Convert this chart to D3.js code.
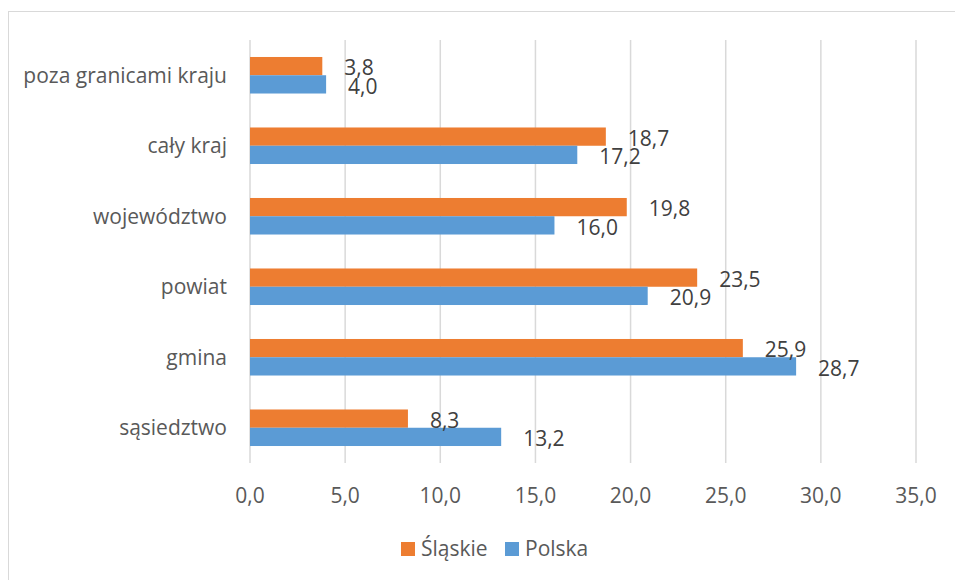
<!DOCTYPE html>
<html>
<head>
<meta charset="utf-8">
<script src="https://cdn.jsdelivr.net/npm/d3@7"></script>
<style>
  body { margin: 0; background: #fff; }
  svg text { font-family: "Open Sans", "DejaVu Sans", sans-serif; }
</style>
</head>
<body>
<div id="plot"></div>
<script>
const categories = ["poza granicami kraju", "cały kraj", "województwo", "powiat", "gmina", "sąsiedztwo"];
const seriesNames = ["Śląskie", "Polska"];
const slaskie = [3.8, 18.7, 19.8, 23.5, 25.9, 8.3];
const polska = [4.0, 17.2, 16.0, 20.9, 28.7, 13.2];
const colours = ["#ED7D31", "#5B9BD5"];
const xTicks = [0, 5, 10, 15, 20, 25, 30, 35];

const width = 955;
const height = 580;
const fmt = v => d3.format(".1f")(v).replace(".", ",");

const data = categories.map((c, i) => ({
  category: c,
  values: [slaskie[i], polska[i]]
}));

const svg = d3.select("#plot")
  .append("svg")
  .attr("width", width)
  .attr("height", height);

// chart border (only left and top edges visible)
svg.append("rect")
  .attr("x", 8.5)
  .attr("y", 11.5)
  .attr("width", 960)
  .attr("height", 600)
  .style("fill", "none")
  .style("stroke", "#d9d9d9");

const x = d3.scaleLinear()
  .domain([0, 35])
  .range([250, 916]);

const y0 = d3.scaleBand()
  .domain(categories)
  .range([40, 463]);

const y1 = d3.scaleBand()
  .domain(seriesNames)
  .range([0, y0.bandwidth()])
  .paddingOuter(0.93);

// gridlines
svg.append("g")
  .selectAll("line")
  .data(xTicks)
  .enter()
  .append("line")
  .attr("x1", d => x(d))
  .attr("x2", d => x(d))
  .attr("y1", 40)
  .attr("y2", 463)
  .style("stroke", "#d9d9d9")
  .style("stroke-width", 1.5);

// tick labels
svg.append("g")
  .selectAll("text")
  .data(xTicks)
  .enter()
  .append("text")
  .attr("x", d => x(d))
  .attr("y", 503)
  .attr("text-anchor", "middle")
  .text(d => fmt(d))
  .style("fill", "#595959")
  .style("font-size", "21px");

// category labels
svg.append("g")
  .selectAll("text")
  .data(categories)
  .enter()
  .append("text")
  .attr("x", 227)
  .attr("y", d => y0(d) + y0.bandwidth() / 2)
  .attr("dy", "0.35em")
  .attr("text-anchor", "end")
  .text(d => d)
  .style("fill", "#595959")
  .style("font-size", "21px");

// bars
const groups = svg.append("g")
  .selectAll("g")
  .data(data)
  .enter()
  .append("g")
  .attr("transform", d => `translate(0,${y0(d.category)})`);

groups.selectAll("rect")
  .data(d => d.values.map((v, j) => ({ series: seriesNames[j], value: v, j })))
  .enter()
  .append("rect")
  .attr("x", x(0))
  .attr("y", d => y1(d.series))
  .attr("width", d => x(d.value) - x(0))
  .attr("height", y1.bandwidth())
  .style("fill", d => colours[d.j]);

groups.selectAll("text")
  .data(d => d.values.map((v, j) => ({ series: seriesNames[j], value: v, j })))
  .enter()
  .append("text")
  .attr("x", d => x(d.value) + 22)
  .attr("y", d => y1(d.series) + y1.bandwidth() / 2 + 2)
  .attr("dy", "0.35em")
  .text(d => fmt(d.value))
  .style("fill", "#404040")
  .style("font-size", "21px");

// legend
const legend = svg.append("g")
  .selectAll("g")
  .data(seriesNames)
  .enter()
  .append("g")
  .attr("transform", (d, i) => `translate(${[401, 505][i]},542)`);

legend.append("rect")
  .attr("width", 14)
  .attr("height", 14)
  .style("fill", (d, i) => colours[i]);

legend.append("text")
  .attr("x", 20)
  .attr("y", 7)
  .attr("dy", "0.35em")
  .text(d => d)
  .style("fill", "#595959")
  .style("font-size", "21px");
</script>
</body>
</html>
